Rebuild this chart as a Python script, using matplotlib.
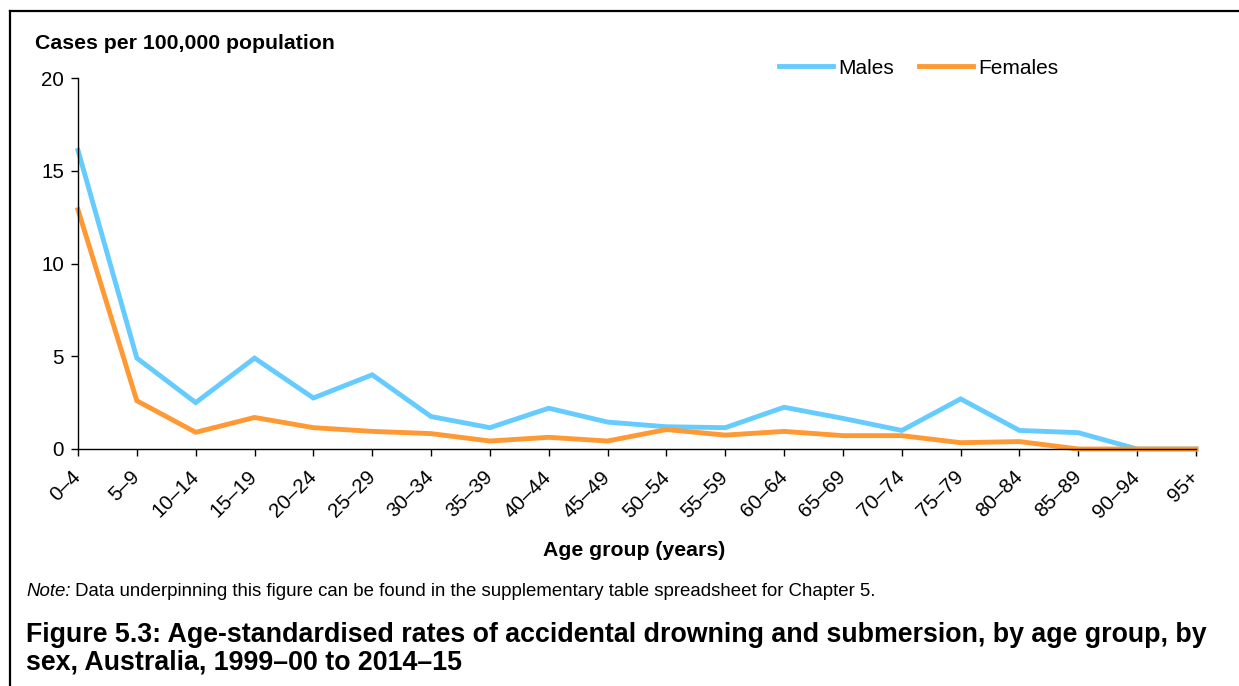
import matplotlib
matplotlib.use("Agg")
import matplotlib.pyplot as plt
from matplotlib.lines import Line2D

plt.rcParams['font.family'] = ['Liberation Sans', 'DejaVu Sans']

age_groups = ['0–4', '5–9', '10–14', '15–19', '20–24', '25–29', '30–34',
              '35–39', '40–44', '45–49', '50–54', '55–59', '60–64', '65–69',
              '70–74', '75–79', '80–84', '85–89', '90–94', '95+']
males = [16.1, 4.9, 2.5, 4.9, 2.75, 4.0, 1.75, 1.15, 2.2, 1.45,
         1.2, 1.15, 2.25, 1.65, 1.0, 2.7, 1.0, 0.88, 0.0, 0.0]
females = [12.9, 2.6, 0.9, 1.7, 1.15, 0.95, 0.83, 0.43, 0.63, 0.43,
           1.05, 0.75, 0.95, 0.72, 0.72, 0.34, 0.4, 0.0, 0.0, 0.0]

W, H = 1239, 686
fig = plt.figure(figsize=(W / 100, H / 100), dpi=100)
ax = fig.add_axes([78 / W, (H - 449) / H, (1196 - 78) / W, (449 - 78) / H])

x = range(len(age_groups))
ax.plot(x, males, color='#66CCFF', lw=3.5, label='Males', clip_on=False,
        solid_joinstyle='miter')
ax.plot(x, females, color='#FF9933', lw=3.5, label='Females', clip_on=False,
        solid_joinstyle='miter')

ax.set_xlim(0, len(age_groups) - 1)
ax.set_ylim(0, 20)
ax.set_yticks([0, 5, 10, 15, 20])
ax.set_xticks(list(x))
ax.set_xticklabels(age_groups, rotation=45, ha='right', va='center',
                   rotation_mode='anchor')
ax.tick_params(axis='both', labelsize=14.8, length=5, width=1, color='black',
               direction='out')
ax.tick_params(axis='x', pad=13)
ax.tick_params(axis='y', pad=5)
for s in ['top', 'right']:
    ax.spines[s].set_visible(False)
for s in ['left', 'bottom']:
    ax.spines[s].set_linewidth(1)

fig.text(35 / W, 1 - 49 / H, 'Cases per 100,000 population', fontsize=15.3,
         fontweight='bold', va='baseline', ha='left')
fig.text(634 / W, 1 - 551 / H, 'Age group (years)', fontsize=15.3,
         fontweight='bold', va='center', ha='center')

fig.legend(loc='center', bbox_to_anchor=(919 / W, 1 - 68 / H), ncol=2,
           frameon=False, fontsize=15, handlelength=2.6, handletextpad=0.25,
           columnspacing=1.2, borderpad=0)

note = fig.text(26 / W, 1 - 596 / H, 'Note:', fontsize=13.4, style='italic',
                va='baseline', ha='left')
ax.annotate(' Data underpinning this figure can be found in the supplementary '
            'table spreadsheet for Chapter 5.', xy=(1, 0), xycoords=note,
            fontsize=13.4, va='bottom', ha='left', annotation_clip=False)

title_lines = ['Figure 5.3: Age-standardised rates of accidental drowning and '
               'submersion, by age group, by',
               'sex, Australia, 1999–00 to 2014–15']
for line, base in zip(title_lines, [642, 669]):
    fig.text(26 / W, 1 - base / H, line, fontsize=19.3, fontweight='bold',
             va='baseline', ha='left')

# frame round the figure (top and left edges)
fig.add_artist(Line2D([10 / W, 1], [1 - 11 / H, 1 - 11 / H], color='black',
                      lw=1.6, transform=fig.transFigure))
fig.add_artist(Line2D([10 / W, 10 / W], [0, 1 - 11 / H], color='black',
                      lw=1.6, transform=fig.transFigure))

fig.savefig('out.png', dpi=100, facecolor='white')
